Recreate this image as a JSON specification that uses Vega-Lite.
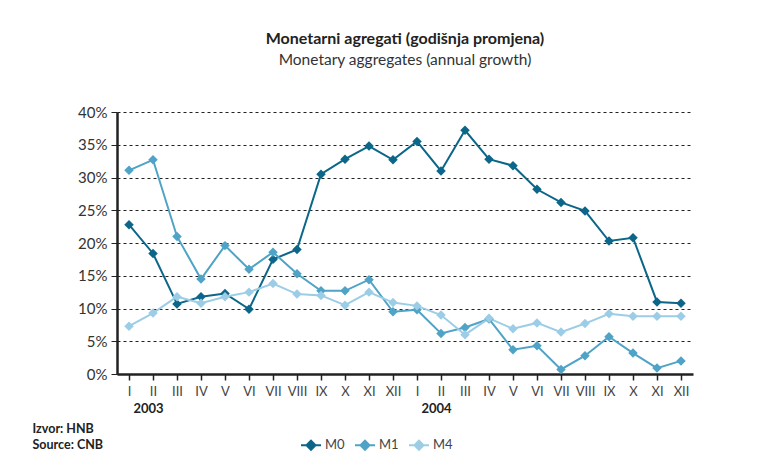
{
  "$schema": "https://vega.github.io/schema/vega-lite/v6.json",
  "width": 576,
  "height": 262,
  "autosize": "none",
  "padding": {"left": 117, "top": 112, "right": 77, "bottom": 92},
  "background": "white",
  "config": {
    "font": "Lato",
    "view": {"stroke": null}
  },
  "title": {
    "text": "Monetarni agregati (godišnja promjena)",
    "subtitle": "Monetary aggregates (annual growth)",
    "fontSize": 16,
    "fontWeight": "bold",
    "color": "#222",
    "subtitleFontSize": 15.5,
    "subtitleColor": "#333",
    "subtitlePadding": 6,
    "offset": 37,
    "anchor": "middle"
  },
  "data": {
    "values": [
      {"m": "2003-I", "s": "M0", "v": 22.8}, {"m": "2003-II", "s": "M0", "v": 18.4}, {"m": "2003-III", "s": "M0", "v": 10.7}, {"m": "2003-IV", "s": "M0", "v": 11.8}, {"m": "2003-V", "s": "M0", "v": 12.3}, {"m": "2003-VI", "s": "M0", "v": 9.9}, {"m": "2003-VII", "s": "M0", "v": 17.5}, {"m": "2003-VIII", "s": "M0", "v": 19.0}, {"m": "2003-IX", "s": "M0", "v": 30.5}, {"m": "2003-X", "s": "M0", "v": 32.8}, {"m": "2003-XI", "s": "M0", "v": 34.8}, {"m": "2003-XII", "s": "M0", "v": 32.7},
      {"m": "2004-I", "s": "M0", "v": 35.5}, {"m": "2004-II", "s": "M0", "v": 31.0}, {"m": "2004-III", "s": "M0", "v": 37.2}, {"m": "2004-IV", "s": "M0", "v": 32.8}, {"m": "2004-V", "s": "M0", "v": 31.8}, {"m": "2004-VI", "s": "M0", "v": 28.2}, {"m": "2004-VII", "s": "M0", "v": 26.2}, {"m": "2004-VIII", "s": "M0", "v": 24.9}, {"m": "2004-IX", "s": "M0", "v": 20.3}, {"m": "2004-X", "s": "M0", "v": 20.8}, {"m": "2004-XI", "s": "M0", "v": 11.0}, {"m": "2004-XII", "s": "M0", "v": 10.8},
      {"m": "2003-I", "s": "M1", "v": 31.1}, {"m": "2003-II", "s": "M1", "v": 32.7}, {"m": "2003-III", "s": "M1", "v": 21.0}, {"m": "2003-IV", "s": "M1", "v": 14.5}, {"m": "2003-V", "s": "M1", "v": 19.6}, {"m": "2003-VI", "s": "M1", "v": 16.0}, {"m": "2003-VII", "s": "M1", "v": 18.6}, {"m": "2003-VIII", "s": "M1", "v": 15.3}, {"m": "2003-IX", "s": "M1", "v": 12.7}, {"m": "2003-X", "s": "M1", "v": 12.7}, {"m": "2003-XI", "s": "M1", "v": 14.4}, {"m": "2003-XII", "s": "M1", "v": 9.5},
      {"m": "2004-I", "s": "M1", "v": 9.8}, {"m": "2004-II", "s": "M1", "v": 6.2}, {"m": "2004-III", "s": "M1", "v": 7.1}, {"m": "2004-IV", "s": "M1", "v": 8.4}, {"m": "2004-V", "s": "M1", "v": 3.7}, {"m": "2004-VI", "s": "M1", "v": 4.3}, {"m": "2004-VII", "s": "M1", "v": 0.7}, {"m": "2004-VIII", "s": "M1", "v": 2.8}, {"m": "2004-IX", "s": "M1", "v": 5.7}, {"m": "2004-X", "s": "M1", "v": 3.2}, {"m": "2004-XI", "s": "M1", "v": 0.9}, {"m": "2004-XII", "s": "M1", "v": 2.0},
      {"m": "2003-I", "s": "M4", "v": 7.3}, {"m": "2003-II", "s": "M4", "v": 9.3}, {"m": "2003-III", "s": "M4", "v": 11.8}, {"m": "2003-IV", "s": "M4", "v": 10.8}, {"m": "2003-V", "s": "M4", "v": 11.8}, {"m": "2003-VI", "s": "M4", "v": 12.5}, {"m": "2003-VII", "s": "M4", "v": 13.8}, {"m": "2003-VIII", "s": "M4", "v": 12.2}, {"m": "2003-IX", "s": "M4", "v": 12.0}, {"m": "2003-X", "s": "M4", "v": 10.5}, {"m": "2003-XI", "s": "M4", "v": 12.5}, {"m": "2003-XII", "s": "M4", "v": 10.9},
      {"m": "2004-I", "s": "M4", "v": 10.4}, {"m": "2004-II", "s": "M4", "v": 9.0}, {"m": "2004-III", "s": "M4", "v": 6.0}, {"m": "2004-IV", "s": "M4", "v": 8.5}, {"m": "2004-V", "s": "M4", "v": 6.9}, {"m": "2004-VI", "s": "M4", "v": 7.8}, {"m": "2004-VII", "s": "M4", "v": 6.4}, {"m": "2004-VIII", "s": "M4", "v": 7.7}, {"m": "2004-IX", "s": "M4", "v": 9.2}, {"m": "2004-X", "s": "M4", "v": 8.8}, {"m": "2004-XI", "s": "M4", "v": 8.8}, {"m": "2004-XII", "s": "M4", "v": 8.8}
    ]
  },
  "resolve": {"axis": {"x": "independent"}},
  "layer": [
    {
      "mark": {"type": "point", "opacity": 0},
      "encoding": {
        "x": {
          "field": "m", "type": "ordinal", "sort": null,
          "scale": {"paddingInner": 0, "paddingOuter": 0},
          "axis": {
            "orient": "bottom",
            "title": null,
            "domain": false,
            "ticks": false,
            "grid": false,
            "labelAngle": 0,
            "labelExpr": "datum.value == '2003-I' ? '2003' : (datum.value == '2004-I' ? '2004' : '')",
            "labelFontWeight": "bold",
            "labelFontSize": 13,
            "labelColor": "#222",
            "labelPadding": 28,
            "labelOffset": 19,
            "labelOverlap": false
          }
        },
        "y": {
          "field": "v", "type": "quantitative",
          "scale": {"domain": [0, 40]},
          "axis": {
            "title": null,
            "values": [0, 5, 10, 15, 20, 25, 30, 35, 40],
            "labelExpr": "datum.value + '%'",
            "labelFontSize": 15,
            "labelColor": "#333",
            "labelPadding": 4,
            "labelOverlap": false,
            "labelBound": false,
            "domainColor": "#222",
            "domainWidth": 2.5,
            "tickColor": "#222",
            "tickSize": 6,
            "gridColor": "#222",
            "gridDash": [3, 3],
            "gridWidth": 1
          }
        }
      }
    },
    {
      "mark": {"type": "line", "strokeWidth": 2, "point": {"shape": "diamond", "filled": true, "size": 90, "opacity": 1}},
      "encoding": {
        "x": {
          "field": "m", "type": "ordinal", "sort": null,
          "axis": {
            "orient": "bottom",
            "title": ["Izvor: HNB", "Source: CNB"],
            "titleFontSize": 12.5,
            "titleFontWeight": "bold",
            "titleColor": "#222",
            "titleAlign": "left",
            "titleBaseline": "top",
            "titleAnchor": "start",
            "titleX": -85,
            "titleY": 48,
            "titleLineHeight": 16,
            "domainColor": "#222",
            "domainWidth": 2.5,
            "bandPosition": 0,
            "tickColor": "#222",
            "tickSize": 6,
            "tickWidth": 1.5,
            "labelAngle": 0,
            "labelExpr": "split(datum.value, '-')[1]",
            "labelFontSize": 13,
            "labelColor": "#444",
            "labelPadding": 5,
            "labelOverlap": false,
            "grid": false
          }
        },
        "y": {
          "field": "v", "type": "quantitative",
          "scale": {"domain": [0, 40]},
          "axis": {
            "title": null,
            "values": [0, 5, 10, 15, 20, 25, 30, 35, 40],
            "labelExpr": "datum.value + '%'",
            "labelFontSize": 15,
            "labelColor": "#333",
            "labelPadding": 4,
            "labelOverlap": false,
            "labelBound": false,
            "domainColor": "#222",
            "domainWidth": 2.5,
            "tickColor": "#222",
            "tickSize": 6,
            "gridColor": "#222",
            "gridDash": [3, 3],
            "gridWidth": 1
          }
        },
        "color": {
          "field": "s", "type": "nominal",
          "scale": {"domain": ["M0", "M1", "M4"], "range": ["#0b6689", "#4fa3c6", "#9ccde6"]},
          "legend": {
            "title": null,
            "orient": "none",
            "direction": "horizontal",
            "legendX": 183,
            "legendY": 322,
            "symbolType": "M-1,0H1M0,-0.45L0.45,0L0,0.45L-0.45,0Z",
            "symbolSize": 400,
            "symbolStrokeWidth": 2,
            "labelFontSize": 13,
            "labelColor": "#444",
            "labelOffset": 3,
            "columnPadding": 6,
            "encode": {
              "symbols": {
                "update": {
                  "fill": {"scale": "color", "field": "value"},
                  "stroke": {"scale": "color", "field": "value"},
                  "opacity": {"value": 1}
                }
              }
            }
          }
        }
      }
    }
  ]
}
